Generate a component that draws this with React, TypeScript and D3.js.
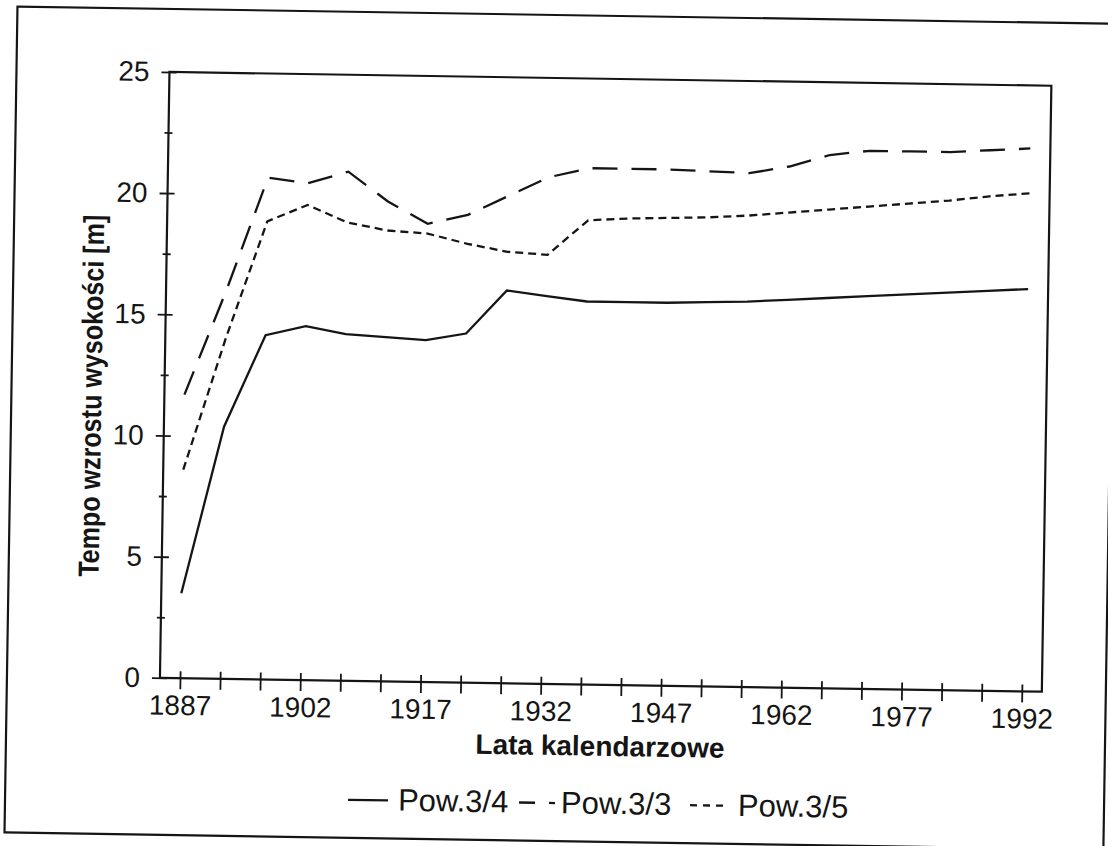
import React, { useEffect, useRef } from 'react';
import * as d3 from 'd3';

// calendar years (categories)
const years = [1887, 1892, 1897, 1902, 1907, 1912, 1917, 1922, 1927, 1932, 1937,
               1942, 1947, 1952, 1957, 1962, 1967, 1972, 1977, 1982, 1987, 1992];
const yearLabels = [1887, 1902, 1917, 1932, 1947, 1962, 1977, 1992];

// height growth [m]
const pow34 = [3.5, 10.4, 14.2, 14.6, 14.3, 14.2, 14.1, 14.4, 16.2, 16.0, 15.8,
               15.8, 15.8, 15.85, 15.9, 16.0, 16.1, 16.2, 16.3, 16.4, 16.5, 16.6];
const pow33 = [11.7, 16.0, 20.7, 20.5, 21.0, 19.8, 18.9, 19.3, 20.1, 20.9, 21.3,
               21.3, 21.3, 21.25, 21.2, 21.5, 22.0, 22.2, 22.2, 22.2, 22.3, 22.4];
const pow35 = [8.6, 14.0, 18.9, 19.6, 18.9, 18.6, 18.5, 18.1, 17.8, 17.7, 19.15,
               19.25, 19.3, 19.35, 19.45, 19.6, 19.75, 19.9, 20.05, 20.2, 20.4, 20.55];

const yTicks = [0, 2.5, 5, 7.5, 10, 12.5, 15, 17.5, 20, 22.5, 25];
const seriesNames = ['Pow.3/4', 'Pow.3/3', 'Pow.3/5'];

const FONT = "'Liberation Sans', Arial, sans-serif";
const INK = '#151515';

function draw(reference: React.RefObject<HTMLDivElement>)
{
  const W = 1108, H = 846;
  const margin = {top: 78, right: 62, bottom: 162, left: 164};

  const svg = d3.select(reference.current)
                .append('svg')
                .attr('width', W)
                .attr('height', H)
                .style('position', 'absolute')
                .style('left', 0)
                .style('top', 0)
                .style('background', '#fff');

  // the scanned page is slightly tilted
  const g = svg.append('g').attr('transform', 'rotate(0.9, 554, 423)');

  // outer page frame
  g.append('rect')
   .attr('x', 11).attr('y', 15)
   .attr('width', 1099).attr('height', 826)
   .attr('fill', 'none').attr('stroke', INK).attr('stroke-width', 2.2);

  const x = d3.scalePoint<number>()
              .domain(years)
              .range([margin.left, W - margin.right])
              .padding(0.5);

  const y = d3.scaleLinear()
              .domain([0, 25])
              .range([H - margin.bottom, margin.top]);

  // plot frame
  g.append('rect')
   .attr('x', margin.left).attr('y', margin.top)
   .attr('width', W - margin.right - margin.left)
   .attr('height', H - margin.bottom - margin.top)
   .attr('fill', 'none').attr('stroke', INK).attr('stroke-width', 2.2);

  // x axis
  const xAxis = g.append('g')
                 .attr('transform', `translate(0, ${H - margin.bottom})`)
                 .call(d3.axisBottom(x)
                         .tickSize(11)
                         .tickPadding(6)
                         .tickFormat(d => yearLabels.includes(d) ? String(d) : ''));
  xAxis.select('.domain').remove();
  xAxis.selectAll('.tick line')
       .attr('y1', -7)
       .attr('stroke', INK).attr('stroke-width', 1.8);
  xAxis.selectAll('.tick text')
       .attr('fill', INK)
       .style('font-family', FONT)
       .style('font-size', '28px');

  // y axis
  const yAxis = g.append('g')
                 .attr('transform', `translate(${margin.left}, 0)`)
                 .call(d3.axisLeft(y)
                         .tickValues(yTicks)
                         .tickSize(8)
                         .tickPadding(12)
                         .tickFormat(d => (+d) % 5 === 0 ? String(d) : ''));
  yAxis.select('.domain').remove();
  yAxis.selectAll('.tick line')
       .attr('x1', (d: any) => d % 5 === 0 ? 7 : 4)
       .attr('x2', (d: any) => d % 5 === 0 ? -8 : -4)
       .attr('stroke', INK).attr('stroke-width', 1.8);
  yAxis.selectAll('.tick text')
       .attr('fill', INK)
       .style('font-family', FONT)
       .style('font-size', '28px');

  // series
  const dashes = [null, '25,14', '8,5'];
  const line = d3.line<number>()
                 .x((d, i) => x(years[i]) as number)
                 .y(d => y(d));

  [pow34, pow33, pow35].forEach((values, k) => {
    g.append('path')
     .datum(values)
     .attr('d', line)
     .attr('fill', 'none')
     .attr('stroke', INK)
     .attr('stroke-width', 2.3)
     .attr('stroke-dasharray', dashes[k]);
  });

  // axis titles
  g.append('text')
   .attr('x', (margin.left + W - margin.right) / 2)
   .attr('y', 755)
   .attr('text-anchor', 'middle')
   .attr('fill', INK)
   .style('font-family', FONT)
   .style('font-weight', 'bold')
   .style('font-size', '28px')
   .text('Lata kalendarzowe');

  g.append('text')
   .attr('transform', 'translate(101, 403) rotate(-90)')
   .attr('text-anchor', 'middle')
   .attr('fill', INK)
   .attr('textLength', 362)
   .attr('lengthAdjust', 'spacingAndGlyphs')
   .style('font-family', FONT)
   .style('font-weight', 'bold')
   .style('font-size', '29px')
   .text('Tempo wzrostu wysokości [m]');

  // legend
  const legendY = 813;
  const legend = [
    {sx: 354, ex: 394, tx: 404, dash: null},
    {sx: 525, ex: 561, tx: 567, dash: '16,14'},
    {sx: 696, ex: 729, tx: 744, dash: '7,6'},
  ];
  legend.forEach((item, k) => {
    g.append('line')
     .attr('x1', item.sx).attr('x2', item.ex)
     .attr('y1', legendY - 10).attr('y2', legendY - 10)
     .attr('stroke', INK).attr('stroke-width', 2.3)
     .attr('stroke-dasharray', item.dash);
    g.append('text')
     .attr('x', item.tx)
     .attr('y', legendY)
     .attr('fill', INK)
     .style('font-family', FONT)
     .style('font-size', '31px')
     .text(seriesNames[k]);
  });
}

export default function App() {
  const plot = useRef<HTMLDivElement>(null);

  useEffect(() => {
    d3.select(plot.current).selectAll('*').remove();
    draw(plot);
  }, []);

  return ( <div ref={plot}></div> );
}
